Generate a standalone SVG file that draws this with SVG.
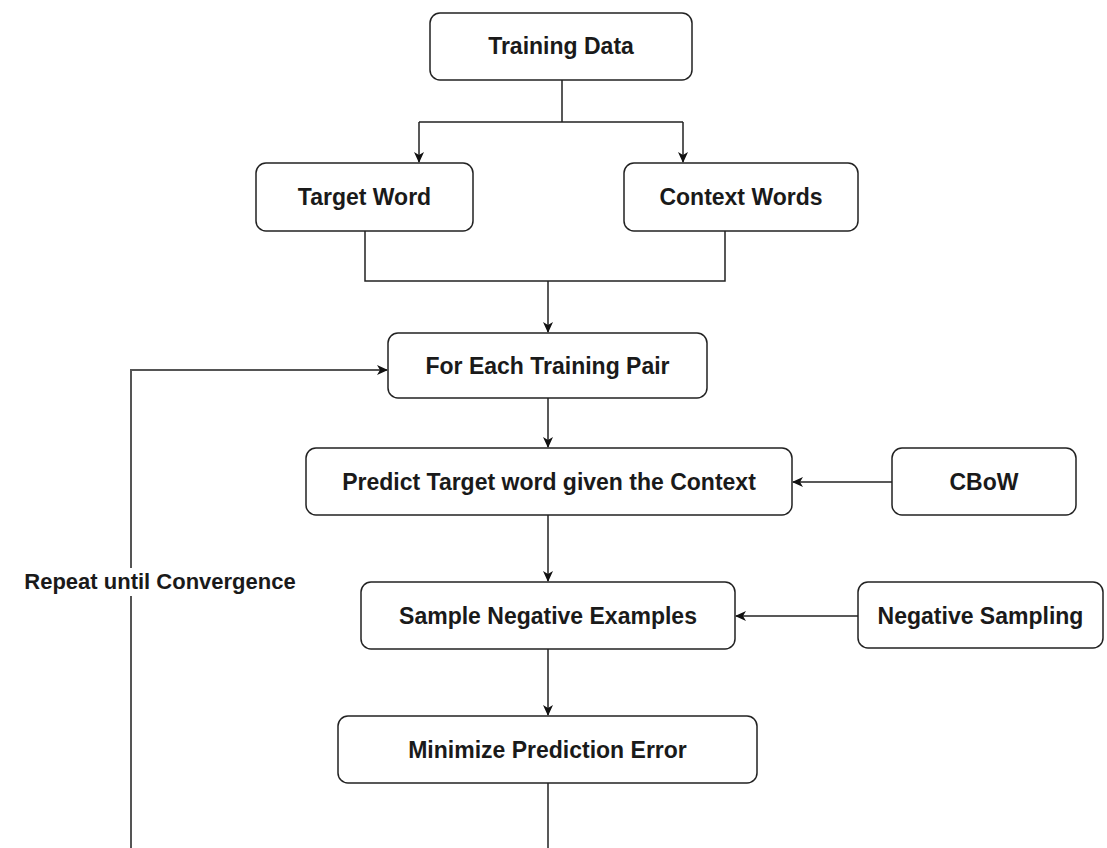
<svg xmlns="http://www.w3.org/2000/svg" width="1107" height="848" viewBox="0 0 1107 848">
<defs>
<style>
.box{fill:#fff;stroke:#222;stroke-width:1.5}
.lbl{font-family:"Liberation Sans",Arial,sans-serif;font-weight:bold;font-size:23px;fill:#1a1a1a;text-anchor:middle}
.edge{fill:none;stroke:#222;stroke-width:1.5}
.loop{fill:none;stroke:#555;stroke-width:2}
</style>
<marker id="arr" markerWidth="12" markerHeight="10" refX="10" refY="5" orient="auto" markerUnits="userSpaceOnUse">
<path d="M0,0 L11,5 L0,10 L3,5 Z" fill="#111"/>
</marker>
</defs>
<rect width="1107" height="848" fill="#fff"/>
<g id="connectors">
<path class="edge" d="M562,80 V122 M419,122 H683"/>
<path class="edge" d="M419,122 V162" marker-end="url(#arr)"/>
<path class="edge" d="M683,122 V162" marker-end="url(#arr)"/>
<path class="edge" d="M365,231 V281 H725 V231"/>
<path class="edge" d="M548,281 V332" marker-end="url(#arr)"/>
<path class="edge" d="M548,398 V447" marker-end="url(#arr)"/>
<path class="edge" d="M892,482 H793" marker-end="url(#arr)"/>
<path class="edge" d="M548,515 V581" marker-end="url(#arr)"/>
<path class="edge" d="M858,616 H736" marker-end="url(#arr)"/>
<path class="edge" d="M548,649 V715" marker-end="url(#arr)"/>
<path class="edge" d="M548,783 V850"/>
<path class="loop" d="M131,850 V596 M131,568 V370 H387" marker-end="url(#arr)"/>
</g>
<g id="training-data"><rect class="box" x="430" y="13" width="262" height="67" rx="10"/><text class="lbl" x="561" y="54">Training Data</text></g>
<g id="target-word"><rect class="box" x="256" y="163" width="217" height="68" rx="10"/><text class="lbl" x="364.5" y="205">Target Word</text></g>
<g id="context-words"><rect class="box" x="624" y="163" width="234" height="68" rx="10"/><text class="lbl" x="741" y="205">Context Words</text></g>
<g id="for-each"><rect class="box" x="388" y="333" width="319" height="65" rx="10"/><text class="lbl" x="547.5" y="374">For Each Training Pair</text></g>
<g id="predict"><rect class="box" x="306" y="448" width="486" height="67" rx="10"/><text class="lbl" x="549" y="490">Predict Target word given the Context</text></g>
<g id="cbow"><rect class="box" x="892" y="448" width="184" height="67" rx="10"/><text class="lbl" x="984" y="490">CBoW</text></g>
<g id="sample-negative"><rect class="box" x="361" y="582" width="374" height="67" rx="10"/><text class="lbl" x="548" y="624">Sample Negative Examples</text></g>
<g id="negative-sampling"><rect class="box" x="858" y="582" width="245" height="66" rx="10"/><text class="lbl" x="980.5" y="624">Negative Sampling</text></g>
<g id="minimize"><rect class="box" x="338" y="716" width="419" height="67" rx="10"/><text class="lbl" x="547.5" y="758">Minimize Prediction Error</text></g>
<g id="repeat-label"><text class="lbl" x="160" y="589" style="font-size:22px">Repeat until Convergence</text></g>
</svg>
